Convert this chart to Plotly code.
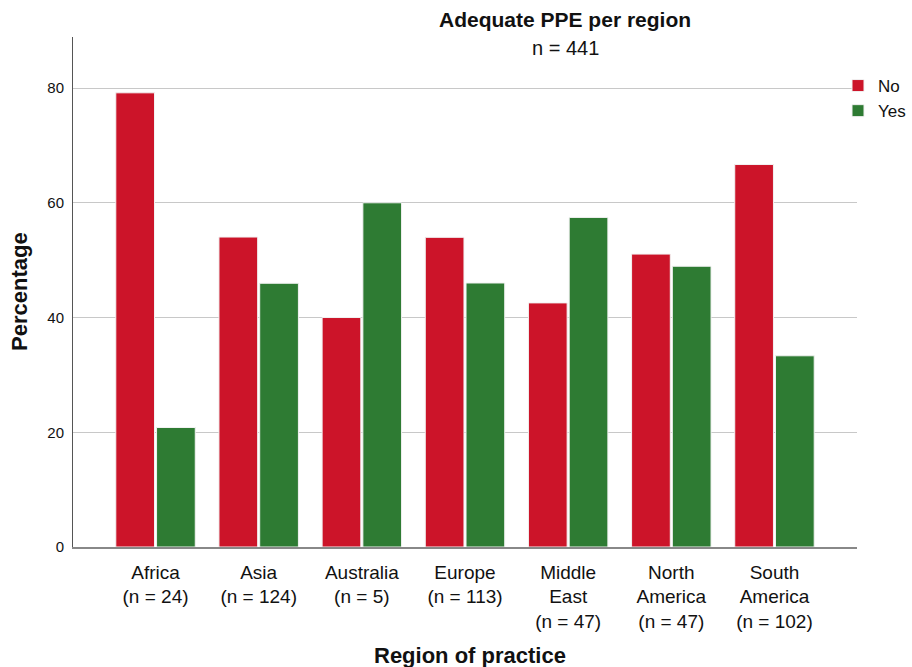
import plotly.graph_objects as go

regions = ["Africa<br>(n = 24)", "Asia<br>(n = 124)", "Australia<br>(n = 5)", "Europe<br>(n = 113)",
           "Middle<br>East<br>(n = 47)", "North<br>America<br>(n = 47)", "South<br>America<br>(n = 102)"]
no_vals = [79.17, 54.03, 40.0, 53.98, 42.55, 51.06, 66.67]
yes_vals = [20.83, 45.97, 60.0, 46.02, 57.45, 48.94, 33.33]

font = "Liberation Sans, Arial, sans-serif"

fig = go.Figure()
fig.add_trace(go.Bar(x=regions, y=no_vals, name="No",
                     marker=dict(color="#CC1429", line=dict(color="#f2f2f2", width=1))))
fig.add_trace(go.Bar(x=regions, y=yes_vals, name="Yes",
                     marker=dict(color="#2E7B33", line=dict(color="#f2f2f2", width=1))))

L, R, T, B = 73, 55, 37, 120
W, H = 912, 667
pw, ph = W - L - R, H - T - B

fig.update_layout(
    width=W, height=H,
    margin=dict(l=L, r=R, t=T, b=B, autoexpand=False),
    plot_bgcolor="white", paper_bgcolor="white",
    barmode="group", bargap=0.21, bargroupgap=0.05,
    showlegend=True,
    legend=dict(x=(838 - L) / pw, xanchor="left", y=1 - (68 - T) / ph, yanchor="top",
                font=dict(family=font, size=17, color="#111"),
                tracegroupgap=0, itemwidth=30, bgcolor="rgba(0,0,0,0)"),
    xaxis=dict(range=[-0.8, 6.8], showline=True, linecolor="#888", linewidth=1.5, ticks="", automargin=False,
               ticklabelstandoff=7,
               tickfont=dict(family=font, size=19, color="#111"),
               title=dict(text="")),
    yaxis=dict(range=[0, 88.9], tickvals=[0, 20, 40, 60, 80], showgrid=True, gridcolor="#c8c8c8", gridwidth=1,
               showline=True, linecolor="#555", linewidth=1, zeroline=False, ticks="", automargin=False,
               ticklabelstandoff=5,
               tickfont=dict(family=font, size=15, color="#111"),
               title=dict(text="")),
)
fig.add_annotation(text="<b>Adequate PPE per region</b>", xref="paper", yref="paper", x=(565 - L) / pw,
                   y=1 + (T - 20) / ph, showarrow=False, font=dict(family=font, size=21, color="#111"),
                   xanchor="center", yanchor="middle")
fig.add_annotation(text="n = 441", xref="paper", yref="paper", x=(565 - L) / pw, y=1 - (48 - T) / ph,
                   showarrow=False, font=dict(family=font, size=20, color="#111"),
                   xanchor="center", yanchor="middle")
fig.add_annotation(text="<b>Region of practice</b>", xref="paper", yref="paper", x=(470 - L) / pw,
                   y=-(655 - (H - B)) / ph, showarrow=False, font=dict(family=font, size=22, color="#111"),
                   xanchor="center", yanchor="middle")
fig.add_annotation(text="<b>Percentage</b>", xref="paper", yref="paper", x=-(73 - 19) / pw,
                   y=1 - (292 - T) / ph, showarrow=False, textangle=-90,
                   font=dict(family=font, size=22, color="#111"),
                   xanchor="center", yanchor="middle")

fig.write_html("out.html", config={"displayModeBar": False},
               post_script="document.body.style.margin='0px';document.body.style.overflow='hidden';")
